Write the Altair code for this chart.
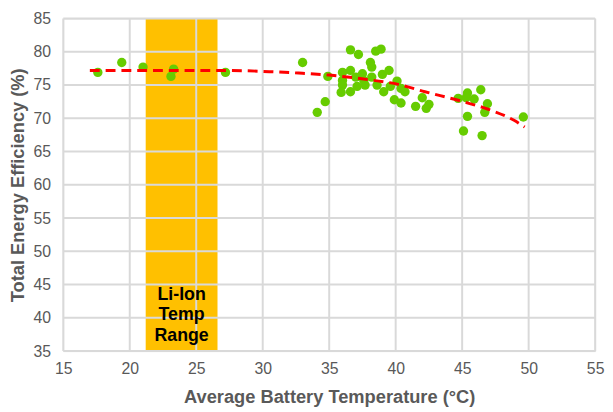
import altair as alt
import pandas as pd

# Scatter data (Average battery temperature °C, total energy efficiency %)
temp = [17.6, 19.4, 21.0, 23.3, 23.1, 27.2, 33.0, 34.9, 34.7, 34.1,
        36.6, 37.2, 38.5, 38.9, 38.1, 38.2, 36.0, 36.6, 36.0, 36.0,
        35.9, 36.6, 37.1, 37.5, 37.6, 37.7, 38.2, 38.6, 39.0, 39.5,
        39.1, 39.6, 40.1, 40.4, 39.9, 40.4, 40.7, 41.5, 42.0, 42.3,
        42.5, 44.7, 45.4, 45.3, 45.9, 46.4, 46.9, 46.7, 45.4, 45.1,
        46.5, 49.6, 37.0]
eff = [76.9, 78.4, 77.7, 77.4, 76.3, 76.9, 78.4, 76.3, 72.5, 70.9,
       80.3, 79.6, 80.1, 80.4, 78.4, 77.7, 76.9, 77.2, 75.7, 75.0,
       73.9, 74.0, 74.8, 76.7, 75.7, 75.0, 76.2, 75.0, 76.6, 77.2,
       74.0, 74.8, 75.6, 74.5, 72.8, 72.3, 74.0, 71.8, 73.1, 71.5,
       72.1, 73.0, 73.8, 73.1, 72.9, 74.3, 72.2, 70.9, 70.3, 68.1,
       67.4, 70.2, 76.2]

# Trend line
trend_x = [17.0, 22.0, 27.2, 30.7, 32.7, 35.0, 37.6, 40.2, 42.2, 44.9, 46.9, 48.9, 49.7]
trend_y = [77.2, 77.2, 77.2, 77.0, 76.8, 76.5, 75.9, 75.1, 74.0, 72.6, 71.4, 69.7, 68.7]

# Li-Ion temperature range band
band_start = [21.2]
band_end = [26.6]
band_label = ["Li-Ion", "Temp", "Range"]
label_y = [43.5, 40.4, 37.3]

x_ticks = [15, 20, 25, 30, 35, 40, 45, 50, 55]
y_ticks = [35, 40, 45, 50, 55, 60, 65, 70, 75, 80, 85]

W, H = 539, 337
xs = alt.Scale(domain=[15, 55], nice=False, zero=False)
ys = alt.Scale(domain=[35, 85], nice=False, zero=False)
grey = "#595959"
font = "Liberation Sans"

pts = pd.DataFrame({"t": temp, "e": eff})
trend = pd.DataFrame({"t": trend_x, "e": trend_y})
band = pd.DataFrame({"t": band_start, "b": band_end, "e": [35], "hi": [85]})
lbl = pd.DataFrame({"t": [23.9] * 3, "e": label_y, "s": band_label})

x_axis = alt.Axis(values=x_ticks, grid=False, domain=False, ticks=False,
                  labelFontSize=16, labelColor=grey, labelPadding=10,
                  labelOverlap=False, labelFlush=False,
                  title="Average Battery Temperature (°C)", titleFontSize=18.5,
                  titleColor=grey, titleFontWeight="bold", titlePadding=11)
y_axis = alt.Axis(values=y_ticks, grid=False, domain=False, ticks=False,
                  labelFontSize=16, labelColor=grey, labelPadding=13,
                  labelOverlap=False, labelFlush=False,
                  title="Total Energy Efficiency (%)", titleFontSize=18.5,
                  titleColor=grey, titleFontWeight="bold", titlePadding=5)


def X(f="t:Q"):
    return alt.X(f, scale=xs, axis=x_axis)


def Y(f="e:Q"):
    return alt.Y(f, scale=ys, axis=y_axis)


band_layer = alt.Chart(band).mark_rect(color="#FFC000").encode(
    x=X(), x2="b:Q", y=Y(), y2="hi:Q")

vgrid = alt.Chart(pd.DataFrame({"t": x_ticks})).mark_rule(
    color="#D9D9D9", strokeWidth=2).encode(x=X())
hgrid = alt.Chart(pd.DataFrame({"e": y_ticks})).mark_rule(
    color="#D9D9D9", strokeWidth=2).encode(y=Y())

text_layer = alt.Chart(lbl).mark_text(
    font=font, fontSize=18, fontWeight="bold", color="#000000").encode(
    x=X(), y=Y(), text="s:N")

pt_layer = alt.Chart(pts).mark_circle(size=90, color="#66CC00", opacity=1).encode(
    x=X(), y=Y())

line_layer = alt.Chart(trend).mark_line(
    color="#FF0000", strokeWidth=3, strokeDash=[10, 6], interpolate="monotone").encode(
    x=X(), y=Y())

chart = alt.layer(band_layer, vgrid, hgrid, text_layer, pt_layer, line_layer).properties(
    width=W, height=H,
    autosize=alt.AutoSizeParams(type="none"),
    padding={"left": 56, "top": 8, "right": 10, "bottom": 58},
).configure_view(stroke=None).configure(font=font).configure_axis(labelFont=font, titleFont=font)

chart.save("out.html", embed_options={"renderer": "svg", "actions": False})
